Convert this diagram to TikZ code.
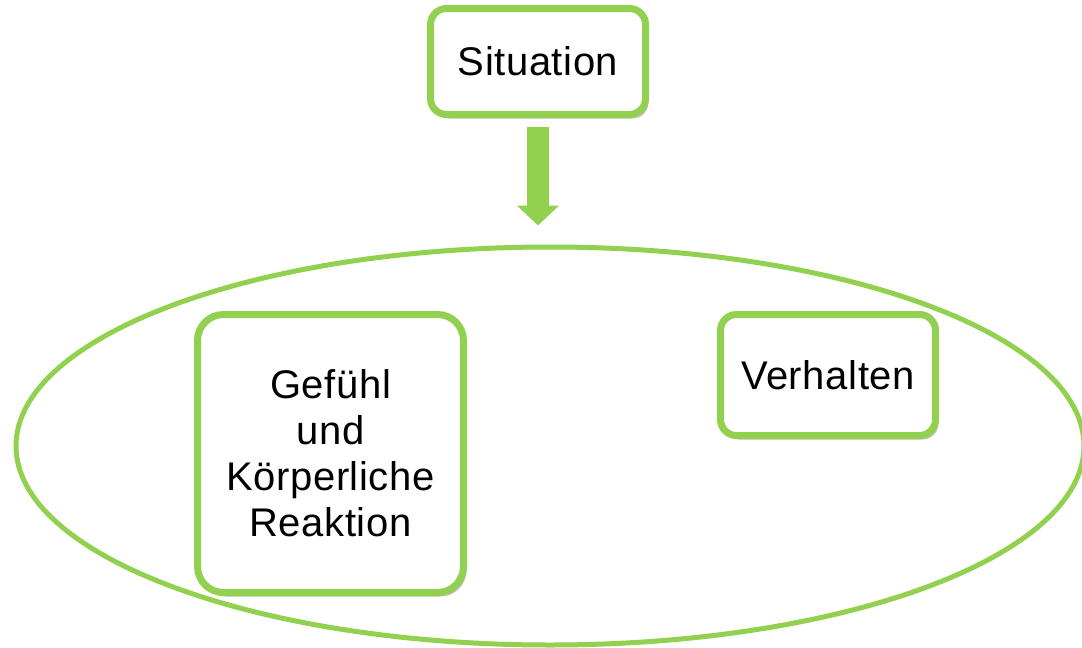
\documentclass[tikz,border=0pt]{standalone}
\usepackage{fontspec}
\setmainfont[LetterSpace=1.5]{Liberation Sans}
\usetikzlibrary{shapes.geometric,shadows,arrows.meta}
\definecolor{officegreen}{RGB}{146,208,80}
\begin{document}
\begin{tikzpicture}[x=0.5pt,y=-0.5pt,
        box/.style={draw=officegreen,line width=3.5pt,rounded corners=8pt,fill=white,
            align=center,inner sep=0pt,font=\fontsize{20}{23}\selectfont,
            drop shadow={shadow xshift=1.5pt,shadow yshift=-2pt,opacity=0.35,fill=black!70}}]
        \useasboundingbox (0,0) rectangle (1082,648);
        \node[ellipse,draw=officegreen,line width=2.5pt,minimum width=534pt,minimum height=199pt] (frame) at (550,446) {};
        \node[box,minimum width=107.5pt,minimum height=53pt] (situation) at (538,61.5) {Situation};
        \node[box,rounded corners=13pt,minimum width=133pt,minimum height=139pt] (gefuehl) at (330.5,453.5) {Gefühl\\und\\Körperliche\\Reaktion};
        \node[box,minimum width=107.5pt,minimum height=60.5pt] (verhalten) at (828,375) {Verhalten};
        \draw[-{Triangle[width=20.5pt,length=10pt]},officegreen,line width=11pt,shorten <=4.5pt,shorten >=9.5pt] (situation.south) -- (situation.south |- frame.north);
    \end{tikzpicture}
\end{document}
